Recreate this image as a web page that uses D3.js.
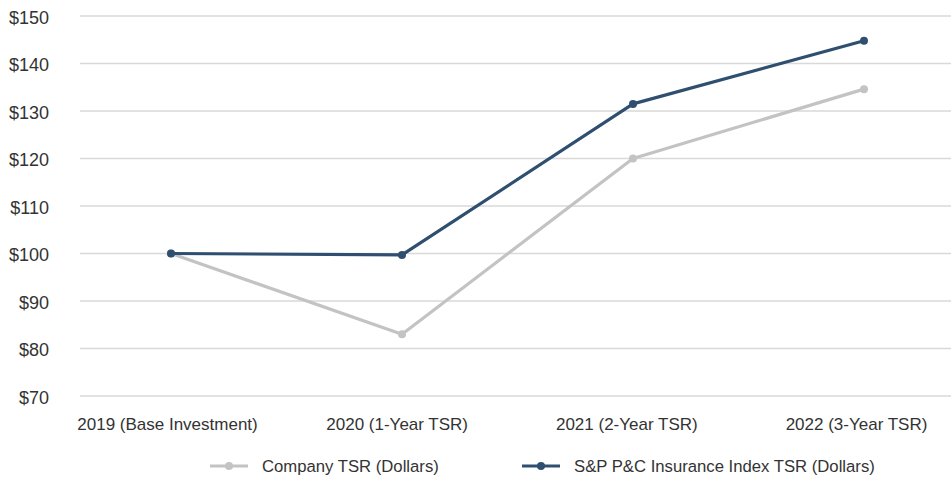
<!DOCTYPE html>
<html>
<head>
<meta charset="utf-8">
<script src="https://cdn.jsdelivr.net/npm/d3@7"></script>
<style>
  html, body { margin: 0; padding: 0; background: #fff; }
  svg { display: block; font-family: "Liberation Sans", Arial, sans-serif; }
</style>
</head>
<body>
<svg id="chart" width="951" height="479"></svg>
<script>
// Cumulative total shareholder return, $100 invested at the 2019 base
const categories = ["2019 (Base Investment)", "2020 (1-Year TSR)", "2021 (2-Year TSR)", "2022 (3-Year TSR)"];
const companyTSR = [100, 83.0, 120.0, 134.6];
const indexTSR = [100, 99.7, 131.5, 144.8];
const seriesNames = ["Company TSR (Dollars)", "S&P P&C Insurance Index TSR (Dollars)"];
const yTicks = [70, 80, 90, 100, 110, 120, 130, 140, 150];

const colors = ["#c3c3c3", "#2f4f70"];
const series = [
  { name: seriesNames[0], values: companyTSR, color: colors[0] },
  { name: seriesNames[1], values: indexTSR, color: colors[1] }
];

const svg = d3.select("#chart");
const gridLeft = 80, gridRight = 951;

// data points and category labels sit on slightly different spans
const x = d3.scalePoint().domain(categories).range([171, 864]);
const xLabel = d3.scalePoint().domain(categories).range([167, 856]);
const y = d3.scaleLinear().domain([70, 150]).range([396, 16]);

// horizontal gridlines
svg.append("g")
  .selectAll("line")
  .data(yTicks)
  .join("line")
  .attr("x1", gridLeft).attr("x2", gridRight)
  .attr("y1", d => y(d)).attr("y2", d => y(d))
  .attr("stroke", "#d9d9d9").attr("stroke-width", 1.5);

// y axis labels
const yAxis = d3.axisLeft(y).tickValues(yTicks).tickFormat(d => "$" + d).tickSize(0).tickPadding(0);
svg.append("g")
  .attr("transform", "translate(49,1)")
  .call(yAxis)
  .call(g => g.select(".domain").remove())
  .call(g => g.selectAll("text")
    .attr("fill", "#333").attr("font-size", 18).attr("dy", "0.35em")
    .attr("font-family", "Liberation Sans, Arial, sans-serif"));

// x axis labels
const xAxis = d3.axisBottom(xLabel).tickSize(0).tickPadding(0);
svg.append("g")
  .attr("transform", "translate(0,418)")
  .call(xAxis)
  .call(g => g.select(".domain").remove())
  .call(g => g.selectAll("text")
    .attr("fill", "#333").attr("font-size", 17)
    .attr("font-family", "Liberation Sans, Arial, sans-serif"));

// lines and markers
const line = d3.line().x((d, i) => x(categories[i])).y(d => y(d));
series.forEach(s => {
  svg.append("path")
    .datum(s.values)
    .attr("d", line)
    .attr("fill", "none")
    .attr("stroke", s.color)
    .attr("stroke-width", 3.2)
    .attr("stroke-linejoin", "round");
  svg.append("g")
    .selectAll("circle")
    .data(s.values)
    .join("circle")
    .attr("cx", (d, i) => x(categories[i]))
    .attr("cy", d => y(d))
    .attr("r", 4)
    .attr("fill", s.color);
});

// legend
const legendItems = [
  { x: 210, s: series[0] },
  { x: 522, s: series[1] }
];
const legend = svg.append("g").attr("transform", "translate(0,466)");
legendItems.forEach(item => {
  const g = legend.append("g").attr("transform", `translate(${item.x},0)`);
  g.append("line").attr("x1", 0).attr("x2", 38).attr("y1", 0).attr("y2", 0)
    .attr("stroke", item.s.color).attr("stroke-width", 3.2);
  g.append("circle").attr("cx", 19).attr("cy", 0).attr("r", 4).attr("fill", item.s.color);
  g.append("text").attr("x", 52).attr("y", 0).attr("dy", "0.35em")
    .attr("fill", "#333").attr("font-size", 16.7)
    .text(item.s.name);
});
</script>
</body>
</html>
